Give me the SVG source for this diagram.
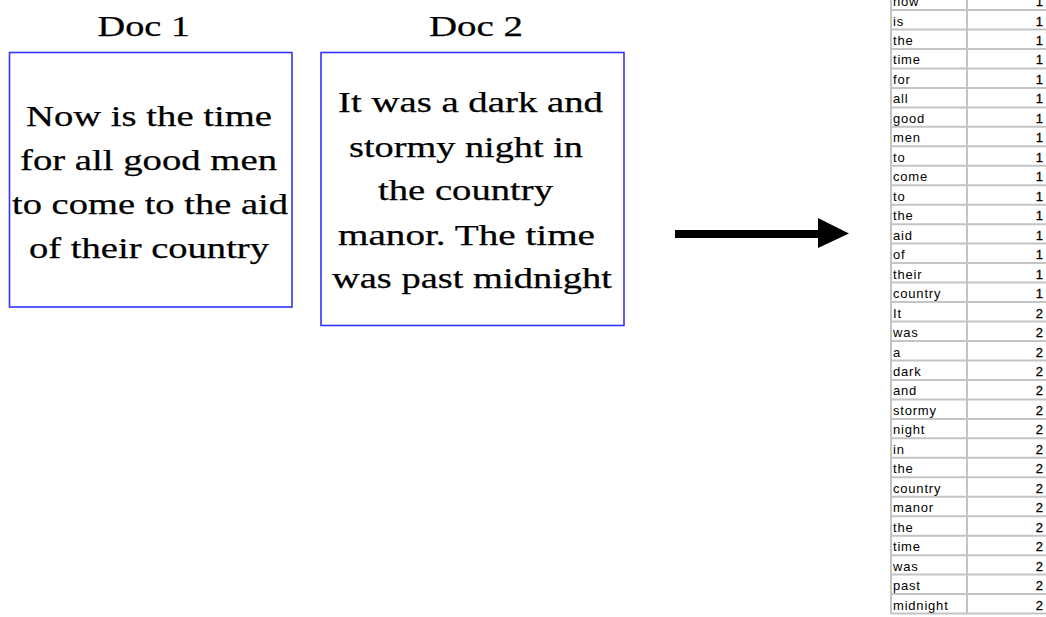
<svg xmlns="http://www.w3.org/2000/svg" width="1046" height="617" viewBox="0 0 1046 617">
<style>
.doc{fill:#fff;stroke:#3333ff;stroke-width:1.6}
.ser{font-family:"Liberation Serif","Times New Roman",serif;font-size:30px;fill:#000;stroke:#000;stroke-width:0.25}
.title{font-family:"Liberation Serif","Times New Roman",serif;font-size:30px;fill:#000;stroke:#000;stroke-width:0.25}
.cell{font-family:"Liberation Sans",Arial,sans-serif;font-size:13px;letter-spacing:0.8px;fill:#000}
.num{font-family:"Liberation Sans",Arial,sans-serif;font-size:13px;fill:#000;stroke:#000;stroke-width:0.3;text-anchor:end}
.grid{stroke:#c4c4c4;stroke-width:2;fill:none}
</style>
<rect width="1046" height="617" fill="#fff"/>
<g id="doc1">
<text class="title" x="97.5" y="36" textLength="92.5" lengthAdjust="spacingAndGlyphs">Doc 1</text>
<rect class="doc" x="9.5" y="52.5" width="282.5" height="254.5"/>
<text class="ser" x="26" y="126" textLength="246" lengthAdjust="spacingAndGlyphs">Now is the time</text>
<text class="ser" x="20" y="170" textLength="257" lengthAdjust="spacingAndGlyphs">for all good men</text>
<text class="ser" x="12" y="214" textLength="276" lengthAdjust="spacingAndGlyphs">to come to the aid</text>
<text class="ser" x="29" y="258" textLength="240" lengthAdjust="spacingAndGlyphs">of their country</text>
</g>
<g id="doc2">
<text class="title" x="429" y="36" textLength="94" lengthAdjust="spacingAndGlyphs">Doc 2</text>
<rect class="doc" x="321" y="52.5" width="303" height="273"/>
<text class="ser" x="338" y="112" textLength="265" lengthAdjust="spacingAndGlyphs">It was a dark and</text>
<text class="ser" x="349" y="157" textLength="234" lengthAdjust="spacingAndGlyphs">stormy night in</text>
<text class="ser" x="378" y="200" textLength="175" lengthAdjust="spacingAndGlyphs">the country</text>
<text class="ser" x="338" y="245" textLength="257" lengthAdjust="spacingAndGlyphs">manor. The time</text>
<text class="ser" x="332" y="288" textLength="280" lengthAdjust="spacingAndGlyphs">was past midnight</text>
</g>
<g id="connectors">
<path d="M675 230H818V218L849 233.5L818 248V238H675Z" fill="#000"/>
</g>
<g id="table">
<path class="grid" d="M891 0V614M967 0V614M891 10H1046M891 29.5H1046M891 48.9H1046M891 68.4H1046M891 87.9H1046M891 107.4H1046M891 126.8H1046M891 146.3H1046M891 165.8H1046M891 185.2H1046M891 204.7H1046M891 224.2H1046M891 243.6H1046M891 263.1H1046M891 282.6H1046M891 302.1H1046M891 321.5H1046M891 341H1046M891 360.5H1046M891 379.9H1046M891 399.4H1046M891 418.9H1046M891 438.3H1046M891 457.8H1046M891 477.3H1046M891 496.8H1046M891 516.2H1046M891 535.7H1046M891 555.2H1046M891 574.6H1046M891 594.1H1046M891 613.6H1046"/>
<text class="cell" x="893" y="6">now</text><text class="num" x="1043" y="6">1</text>
<text class="cell" x="893" y="25.5">is</text><text class="num" x="1043" y="25.5">1</text>
<text class="cell" x="893" y="45">the</text><text class="num" x="1043" y="45">1</text>
<text class="cell" x="893" y="64.4">time</text><text class="num" x="1043" y="64.4">1</text>
<text class="cell" x="893" y="83.9">for</text><text class="num" x="1043" y="83.9">1</text>
<text class="cell" x="893" y="103.4">all</text><text class="num" x="1043" y="103.4">1</text>
<text class="cell" x="893" y="122.9">good</text><text class="num" x="1043" y="122.9">1</text>
<text class="cell" x="893" y="142.3">men</text><text class="num" x="1043" y="142.3">1</text>
<text class="cell" x="893" y="161.8">to</text><text class="num" x="1043" y="161.8">1</text>
<text class="cell" x="893" y="181.3">come</text><text class="num" x="1043" y="181.3">1</text>
<text class="cell" x="893" y="200.7">to</text><text class="num" x="1043" y="200.7">1</text>
<text class="cell" x="893" y="220.2">the</text><text class="num" x="1043" y="220.2">1</text>
<text class="cell" x="893" y="239.7">aid</text><text class="num" x="1043" y="239.7">1</text>
<text class="cell" x="893" y="259.1">of</text><text class="num" x="1043" y="259.1">1</text>
<text class="cell" x="893" y="278.6">their</text><text class="num" x="1043" y="278.6">1</text>
<text class="cell" x="893" y="298.1">country</text><text class="num" x="1043" y="298.1">1</text>
<text class="cell" x="893" y="317.6">It</text><text class="num" x="1043" y="317.6">2</text>
<text class="cell" x="893" y="337">was</text><text class="num" x="1043" y="337">2</text>
<text class="cell" x="893" y="356.5">a</text><text class="num" x="1043" y="356.5">2</text>
<text class="cell" x="893" y="376">dark</text><text class="num" x="1043" y="376">2</text>
<text class="cell" x="893" y="395.4">and</text><text class="num" x="1043" y="395.4">2</text>
<text class="cell" x="893" y="414.9">stormy</text><text class="num" x="1043" y="414.9">2</text>
<text class="cell" x="893" y="434.4">night</text><text class="num" x="1043" y="434.4">2</text>
<text class="cell" x="893" y="453.8">in</text><text class="num" x="1043" y="453.8">2</text>
<text class="cell" x="893" y="473.3">the</text><text class="num" x="1043" y="473.3">2</text>
<text class="cell" x="893" y="492.8">country</text><text class="num" x="1043" y="492.8">2</text>
<text class="cell" x="893" y="512.3">manor</text><text class="num" x="1043" y="512.3">2</text>
<text class="cell" x="893" y="531.7">the</text><text class="num" x="1043" y="531.7">2</text>
<text class="cell" x="893" y="551.2">time</text><text class="num" x="1043" y="551.2">2</text>
<text class="cell" x="893" y="570.7">was</text><text class="num" x="1043" y="570.7">2</text>
<text class="cell" x="893" y="590.1">past</text><text class="num" x="1043" y="590.1">2</text>
<text class="cell" x="893" y="609.6">midnight</text><text class="num" x="1043" y="609.6">2</text>
</g>
</svg>
